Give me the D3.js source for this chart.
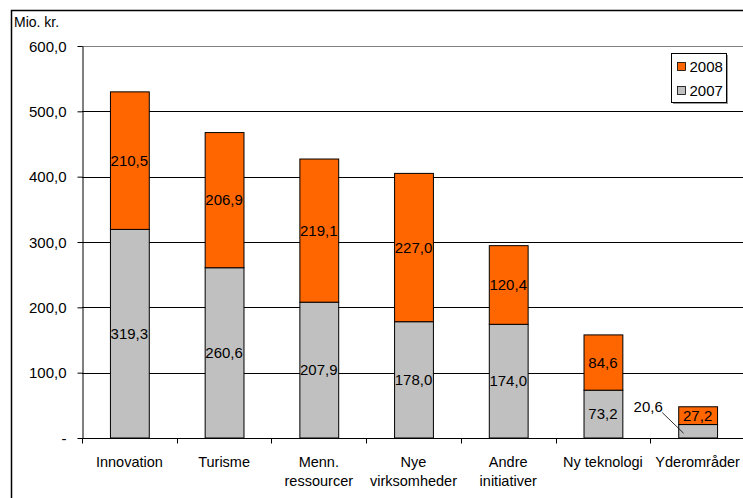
<!DOCTYPE html>
<html><head><meta charset="utf-8">
<script src="https://cdn.jsdelivr.net/npm/d3@7"></script>
<style>body{margin:0;background:#fff}svg{display:block}text{font-family:"Liberation Sans",Arial,sans-serif;fill:#000}</style>
</head><body>
<script>
const categories = [["Innovation"],["Turisme"],["Menn.","ressourcer"],["Nye","virksomheder"],["Andre","initiativer"],["Ny teknologi"],["Yderområder"]];
const values2007 = [319.3, 260.6, 207.9, 178.0, 174.0, 73.2, 20.6];
const values2008 = [210.5, 206.9, 219.1, 227.0, 120.4, 84.6, 27.2];
const yTicks = [0, 100, 200, 300, 400, 500, 600];
const seriesNames = ["2008", "2007"];
const colors = {"2007": "#c0c0c0", "2008": "#ff6600"};

const W = 743, H = 498;
const svg = d3.select("body").append("svg").attr("width", W).attr("height", H);
const m = {left: 82, top: 46, right: 745, bottom: 438};

svg.append("rect").attr("x", 11.5).attr("y", 10.5).attr("width", 760).attr("height", 520)
  .attr("fill", "none").attr("stroke", "#000").attr("stroke-width", 1.5);

const x = d3.scaleBand().domain(d3.range(categories.length)).range([m.left, m.right]).paddingInner(0.59).paddingOuter(0.295);
const y = d3.scaleLinear().domain([0, 600]).range([m.bottom, m.top]);
const fmt = v => v === 0 ? "-" : d3.format(".1f")(v).replace(".", ",");

// gridlines
svg.append("g").selectAll("line").data(yTicks.filter(d => d > 0)).join("line")
  .attr("x1", m.left).attr("x2", W).attr("y1", d => Math.round(y(d)) + 0.5).attr("y2", d => Math.round(y(d)) + 0.5)
  .attr("stroke", d => d === 600 ? "#808080" : "#000").attr("stroke-width", 1);

// y axis
const yAxis = svg.append("g").attr("transform", `translate(${m.left + 0.5},0)`)
  .call(d3.axisLeft(y).tickValues(yTicks).tickFormat(fmt).tickSize(5).tickSizeOuter(0));
yAxis.select(".domain").attr("stroke", "#000");
yAxis.selectAll("text").style("font-size", "15px").attr("x", -16).attr("dy", "0.35em");

// bars
const stack = [];
categories.forEach((c, i) => {
  stack.push({i, s: "2007", y0: 0, y1: values2007[i], v: values2007[i]});
  stack.push({i, s: "2008", y0: values2007[i], y1: values2007[i] + values2008[i], v: values2008[i]});
});
svg.append("g").selectAll("rect").data(stack).join("rect")
  .attr("x", d => x(d.i) + 0.5).attr("width", x.bandwidth())
  .attr("y", d => y(d.y1)).attr("height", d => y(d.y0) - y(d.y1))
  .attr("fill", d => colors[d.s]).attr("stroke", "#000").attr("stroke-width", 1);

// x axis
const xAxis = svg.append("g").attr("transform", `translate(0,${m.bottom + 0.5})`);
xAxis.append("line").attr("x1", m.left).attr("x2", W).attr("stroke", "#000");
const step = x.step();
xAxis.selectAll(".tk").data(d3.range(categories.length + 1)).join("line")
  .attr("x1", i => Math.round(m.left + i * step) + 0.5).attr("x2", i => Math.round(m.left + i * step) + 0.5)
  .attr("y1", 0).attr("y2", 5).attr("stroke", "#000");
svg.append("g").selectAll("text").data(categories).join("text")
  .attr("text-anchor", "middle").style("font-size", "14.5px")
  .attr("transform", (d, i) => `translate(${x(i) + x.bandwidth() / 2},467)`)
  .selectAll("tspan").data(d => d).join("tspan")
  .attr("x", 0).attr("dy", (d, j) => j === 0 ? 0 : 19).text(d => d);

// value labels
const last = categories.length - 1;
svg.append("g").selectAll("text").data(stack.filter(d => !(d.i === last && d.s === "2007"))).join("text")
  .attr("text-anchor", "middle").style("font-size", "15px")
  .attr("x", d => x(d.i) + x.bandwidth() / 2)
  .attr("y", d => (y(d.y0) + y(d.y1)) / 2).attr("dy", "0.35em")
  .text(d => fmt(d.v));
// callout for small segment
const sm = stack.find(d => d.i === last && d.s === "2007");
const cx = x(last) + x.bandwidth() / 2, cy = (y(sm.y0) + y(sm.y1)) / 2;
svg.append("line").attr("x1", x(last) - 16).attr("y1", y(sm.y1) - 12).attr("x2", cx - 14).attr("y2", cy + 2)
  .attr("stroke", "#000").attr("stroke-width", 0.8);
svg.append("text").attr("text-anchor", "middle").style("font-size", "15px")
  .attr("x", x(last) - 30).attr("y", y(sm.y1) - 18).attr("dy", "0.35em").text(fmt(sm.v));

svg.append("text").attr("x", 14).attr("y", 27).style("font-size", "14px").text("Mio. kr.");

// legend
const lg = svg.append("g").attr("transform", "translate(671.5,53.5)");
lg.append("rect").attr("x", 1.5).attr("y", 1.5).attr("width", 55).attr("height", 49).attr("fill", "#999");
lg.append("rect").attr("width", 55).attr("height", 49).attr("fill", "#fff").attr("stroke", "#000");
seriesNames.forEach((s, i) => {
  const g = lg.append("g").attr("transform", `translate(6,${13 + i * 24})`);
  g.append("rect").attr("y", -4).attr("width", 8).attr("height", 8).attr("fill", colors[s]).attr("stroke", "#000").attr("stroke-width", 0.8);
  g.append("text").attr("x", 12).attr("dy", "0.35em").style("font-size", "15px").text(s);
});
</script>
</body></html>
